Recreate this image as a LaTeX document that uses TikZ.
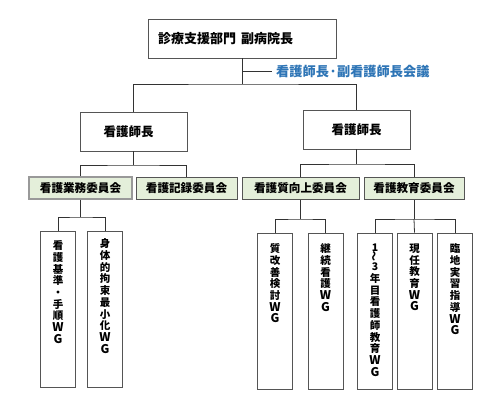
\documentclass[tikz,border=0pt]{standalone}
\usepackage{fontspec}
\newfontfamily\jp{Noto Sans CJK JP}
\usetikzlibrary{positioning}

\definecolor{linegray}{HTML}{333333}
\definecolor{boxgray}{HTML}{555555}
\definecolor{cmtgreen}{HTML}{E4EFDA}
\definecolor{kaigiblue}{HTML}{2E75B6}

\tikzset{
  headbox/.style={draw=boxgray, line width=0.9pt, fill=white, inner sep=0pt,
    font=\jp\bfseries\fontsize{12.5}{14}\selectfont},
  cmtbox/.style={draw=boxgray, line width=0.9pt, fill=cmtgreen, inner sep=0pt,
    minimum height=22pt, font=\jp\bfseries\fontsize{11.6}{13}\selectfont},
  wgbox/.style={draw=boxgray, line width=0.8pt, fill=white, inner sep=0pt,
    minimum width=35pt, minimum height=156pt},
  wgtext/.style={anchor=north, align=center, inner sep=0pt,
    font=\jp\bfseries\fontsize{10.5}{11.7}\selectfont},
  conn/.style={draw=linegray, line width=0.8pt}
}
\newcommand{\wgend}{\large W\\\large G}

\begin{document}
\begin{tikzpicture}[x=1pt,y=-1pt]
\useasboundingbox (0,0) rectangle (500,416);

% Top box
\node[headbox, minimum width=188pt, minimum height=39pt, text width=168pt, align=left,
  font=\jp\bfseries\fontsize{13}{15}\selectfont] (top) at (242,38.5)
  {\raisebox{-4pt}{診療支援部門\hspace{0.4em}副病院長}};

% Meeting label
\coordinate (j1) at (242,71);
\node[anchor=west, inner xsep=5pt, inner ysep=0pt, text=kaigiblue,
  font=\jp\bfseries\fontsize{13.2}{15}\selectfont] (kaigi) at (271,71) {看護師長·副看護師長会議};
\draw[conn] (j1) -- ++(30,0);

% Head nurses
\node[headbox, minimum width=107pt, minimum height=39pt] (ns1) at (133.5,131.5) {\hspace{-10pt}看護師長};
\node[headbox, minimum width=107pt, minimum height=39pt] (ns2) at (356.5,129.5) {看護師長};

\coordinate (j0) at (242,84);
\draw[conn] (top.south) -- (j0);
\draw[conn] (ns1.north) |- (j0) -| (ns2.north);

% Committees
\node[cmtbox, minimum width=103pt, draw=gray!80, line width=1.4pt] (gyomu) at (80.5,188) {看護業務委員会};
\node[cmtbox, minimum width=101pt] (kiroku) at (186.5,188) {看護記録委員会};
\node[cmtbox, minimum width=117pt] (shitsu) at (300.5,188.5) {看護質向上委員会};
\node[cmtbox, minimum width=100pt] (kyoiku) at (414,188.5) {看護教育委員会};

\coordinate (b1) at (133.5,165);
\coordinate (b2) at (356.5,164);
\draw[conn] (ns1.south) -- (b1);
\draw[conn] (gyomu.north) |- (b1) -| (kiroku.north);
\draw[conn] (ns2.south) -- (b2);
\draw[conn] (shitsu.north) |- (b2) -| (kyoiku.north);

% Working groups
\node[wgbox] (wg1) at (58,309) {};
\node[wgbox] (wg2) at (105,309) {};
\node[wgbox] (wg3) at (275,311) {};
\node[wgbox] (wg4) at (325.5,311) {};
\node[wgbox] (wg5) at (375,311) {};
\node[wgbox] (wg6) at (414.5,311) {};
\node[wgbox] (wg7) at (455,311) {};

\node[wgtext] at ([yshift=-10pt]wg1.north) {看\\護\\基\\準\\・\\手\\順\\\wgend};
\node[wgtext] at ([yshift=-8pt]wg2.north) {身\\体\\的\\拘\\束\\最\\小\\化\\\wgend};
\node[wgtext] at ([yshift=-11pt]wg3.north) {質\\改\\善\\検\\討\\\wgend};
\node[wgtext] at ([yshift=-11pt]wg4.north) {継\\続\\看\\護\\\wgend};
\node[wgtext] at ([yshift=-11pt]wg5.north) {1\\[-2pt]\rotatebox{90}{～}\\[-2pt]3\\年\\目\\看\\護\\師\\教\\育\\\wgend};
\node[wgtext] at ([yshift=-11pt]wg6.north) {現\\任\\教\\育\\\wgend};
\node[wgtext] at ([yshift=-11pt]wg7.north) {臨\\地\\実\\習\\指\\導\\\wgend};

\coordinate (b3) at (80.5,217);
\coordinate (b4) at (300.5,219);
\coordinate (b5) at (414,219);
\draw[conn] (gyomu.south) -- (b3);
\draw[conn] (wg1.north) |- (b3) -| (wg2.north);
\draw[conn] (shitsu.south) -- (b4);
\draw[conn] (wg3.north) |- (b4) -| (wg4.north);
\draw[conn] (kyoiku.south) -- (b5);
\draw[conn] (wg5.north) |- (b5) -| (wg7.north);
\draw[conn] (wg6.north) -- (b5);

\end{tikzpicture}
\end{document}
